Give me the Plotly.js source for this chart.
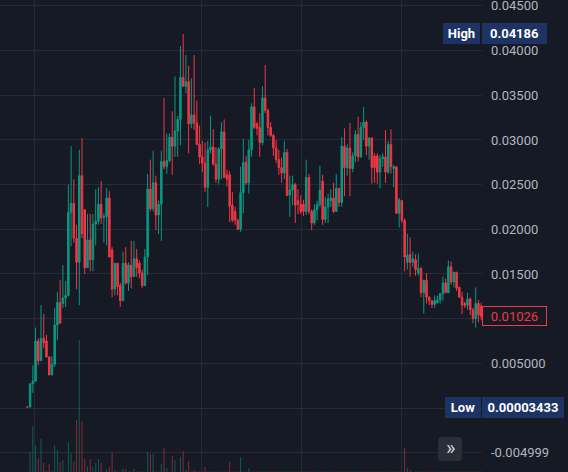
<!DOCTYPE html>
<html>
<head>
<meta charset="utf-8">
<script src="https://cdn.plot.ly/plotly-3.0.1.min.js"></script>
<style>
html,body{margin:0;padding:0;background:#161a25;}
#chart{width:568px;height:472px;}
</style>
</head>
<body>
<div id="chart"></div>
<script>
// ---- data (price in USD, one candle per period) ----
const candleOpen = [
0.00012,0.0001,0.0027,0.0030,0.0075,0.0053,0.0078,0.0075,0.0057,0.0037,
0.0049,0.0093,0.0118,0.0117,0.0123,0.0126,0.0219,0.0229,0.0190,0.0163,
0.0260,0.0222,0.0157,0.0188,0.0166,0.0206,0.0209,0.0228,0.0213,0.0214,
0.0235,0.0177,0.0133,0.0162,0.0137,0.0120,0.0162,0.0140,0.0160,0.0147,
0.0167,0.0162,0.0151,0.0137,0.0169,0.0245,0.0223,0.0252,0.0216,0.0228,
0.0276,0.0270,0.0277,0.0303,0.0293,0.0310,0.0323,0.0370,0.0360,0.0365,
0.0318,0.0328,0.0319,0.0295,0.0281,0.0274,0.0247,0.0289,0.0292,0.0273,
0.0256,0.0290,0.0309,0.0261,0.0261,0.0227,0.0220,0.0210,0.0200,0.0241,
0.0275,0.0252,0.0289,0.0337,0.0318,0.0314,0.0297,0.0347,0.0333,0.0314,
0.0305,0.0291,0.0278,0.0269,0.0263,0.0286,0.0238,0.0244,0.0250,0.0232,
0.0228,0.0228,0.0220,0.0258,0.0220,0.0207,0.0222,0.0228,0.0254,0.0211,
0.0225,0.0232,0.0235,0.0220,0.0246,0.0230,0.0293,0.0269,0.0291,0.0268,
0.0282,0.0306,0.0281,0.0314,0.0320,0.0293,0.0302,0.0282,0.0282,0.0264,
0.0279,0.0281,0.0264,0.0295,0.0268,0.0270,0.0218,0.0232,0.0210,0.0163,
0.0172,0.0163,0.0166,0.0151,0.0156,0.0129,0.0143,0.0124,0.0120,0.0116,
0.0118,0.0121,0.0128,0.0140,0.0129,0.0158,0.0141,0.0152,0.0135,0.0124,
0.0117,0.0115,0.0122,0.0110,0.0100,0.0117,0.0114
];
const candleHigh = [
0.00012,0.0028,0.0048,0.0090,0.0078,0.0115,0.0105,0.0082,0.0058,0.0058,
0.0112,0.0130,0.0143,0.0160,0.0142,0.0250,0.0293,0.0256,0.0205,0.0289,
0.0302,0.0222,0.0217,0.0217,0.0217,0.0245,0.0247,0.0254,0.0218,0.0246,
0.0243,0.0180,0.0162,0.0162,0.0140,0.0175,0.0180,0.0163,0.0187,0.0187,
0.0178,0.0165,0.0155,0.0178,0.0262,0.0278,0.0288,0.0260,0.0232,0.0288,
0.0347,0.0307,0.0307,0.0332,0.0371,0.0327,0.0405,0.04186,0.0395,0.0383,
0.0369,0.0395,0.0344,0.0316,0.0299,0.0297,0.0299,0.0327,0.0312,0.0292,
0.0292,0.0320,0.0323,0.0267,0.0265,0.0242,0.0225,0.0212,0.0270,0.0301,
0.0282,0.0300,0.0341,0.0358,0.0320,0.0330,0.0360,0.0384,0.0335,0.0320,
0.0307,0.0300,0.0289,0.0280,0.0299,0.0290,0.0260,0.0260,0.0252,0.0245,
0.0238,0.0233,0.0278,0.0262,0.0222,0.0228,0.0232,0.0271,0.0261,0.0236,
0.0240,0.0245,0.0252,0.0262,0.0246,0.0303,0.0313,0.0295,0.0319,0.0286,
0.0311,0.0326,0.0320,0.0337,0.0322,0.0303,0.0303,0.0285,0.0285,0.0283,
0.0285,0.0311,0.0299,0.0312,0.0272,0.0270,0.0235,0.0233,0.0212,0.0195,
0.0191,0.0175,0.0172,0.0173,0.0158,0.0143,0.0151,0.0125,0.0121,0.0126,
0.0126,0.0126,0.0147,0.0145,0.0165,0.0164,0.0152,0.0152,0.0136,0.0130,
0.0119,0.0129,0.0124,0.0112,0.0135,0.0121,0.0118
];
const candleLow = [
0.00003433,0.0001,0.0017,0.0030,0.0048,0.0053,0.0067,0.0057,0.0037,0.0037,
0.0046,0.0076,0.0095,0.0112,0.0113,0.0125,0.0181,0.0185,0.0133,0.0115,
0.0190,0.0150,0.0157,0.0153,0.0153,0.0182,0.0205,0.0206,0.0185,0.0182,
0.0169,0.0124,0.0126,0.0126,0.0113,0.0120,0.0138,0.0131,0.0134,0.0147,
0.0147,0.0145,0.0134,0.0137,0.0149,0.0220,0.0220,0.0199,0.0195,0.0187,
0.0267,0.0262,0.0275,0.0261,0.0281,0.0281,0.0294,0.0360,0.0352,0.0285,
0.0313,0.0311,0.0295,0.0273,0.0264,0.0242,0.0225,0.0285,0.0271,0.0252,
0.0250,0.0256,0.0258,0.0248,0.0208,0.0208,0.0205,0.0199,0.0197,0.0218,
0.0250,0.0240,0.0281,0.0312,0.0305,0.0281,0.0294,0.0330,0.0305,0.0303,
0.0282,0.0274,0.0261,0.0252,0.0256,0.0237,0.0214,0.0227,0.0207,0.0217,
0.0217,0.0215,0.0216,0.0217,0.0199,0.0205,0.0210,0.0225,0.0205,0.0207,
0.0207,0.0225,0.0218,0.0220,0.0225,0.0225,0.0237,0.0260,0.0237,0.0264,
0.0275,0.0276,0.0280,0.0300,0.0283,0.0278,0.0251,0.0252,0.0251,0.0246,
0.0270,0.0252,0.0262,0.0262,0.0247,0.0217,0.0202,0.0207,0.0153,0.0155,
0.0147,0.0158,0.0148,0.0148,0.0124,0.0106,0.0117,0.0115,0.0112,0.0112,
0.0117,0.0117,0.0120,0.0129,0.0129,0.0138,0.0135,0.0131,0.0124,0.0105,
0.0112,0.0110,0.0104,0.0095,0.0090,0.0096,0.0098
];
const candleClose = [
0.0001,0.0027,0.0030,0.0075,0.0053,0.0078,0.0073,0.0057,0.0037,0.0049,
0.0093,0.0118,0.0095,0.0123,0.0126,0.0219,0.0229,0.0190,0.0163,0.0260,
0.0195,0.0157,0.0188,0.0166,0.0206,0.0209,0.0228,0.0213,0.0214,0.0235,
0.0169,0.0133,0.0162,0.0136,0.0120,0.0162,0.0140,0.0160,0.0147,0.0167,
0.0157,0.0151,0.0137,0.0169,0.0245,0.0223,0.0252,0.0216,0.0228,0.0276,
0.0270,0.0277,0.0303,0.0293,0.0310,0.0323,0.0370,0.0360,0.0365,0.0318,
0.0328,0.0319,0.0295,0.0281,0.0274,0.0247,0.0289,0.0292,0.0273,0.0256,
0.0290,0.0309,0.0258,0.0256,0.0226,0.0210,0.0210,0.0200,0.0241,0.0275,
0.0252,0.0289,0.0337,0.0314,0.0313,0.0297,0.0347,0.0333,0.0314,0.0305,
0.0291,0.0278,0.0269,0.0263,0.0286,0.0238,0.0244,0.0250,0.0227,0.0228,
0.0220,0.0220,0.0258,0.0220,0.0207,0.0222,0.0228,0.0244,0.0211,0.0225,
0.0234,0.0235,0.0220,0.0246,0.0230,0.0293,0.0269,0.0291,0.0268,0.0282,
0.0306,0.0281,0.0314,0.0320,0.0293,0.0302,0.0269,0.0269,0.0264,0.0279,
0.0281,0.0264,0.0295,0.0270,0.0270,0.0218,0.0233,0.0210,0.0169,0.0171,
0.0163,0.0167,0.0155,0.0156,0.0129,0.0143,0.0124,0.0120,0.0116,0.0120,
0.0121,0.0128,0.0140,0.0129,0.0158,0.0141,0.0152,0.0134,0.0124,0.0115,
0.0115,0.0122,0.0110,0.0100,0.0117,0.0104,0.01026
];
// relative traded volume per candle (most are too small to show)
const candleVolume = [
0.4,20,46,26,14,33,9,1,8,1,
27,22,10,12,0.4,30,19,10,52,132,
51,13,6,13,5,9,13,9,0.4,3,
5,19,2,0.4,0.4,3,3,0.4,0.4,3,
0.4,0.4,0.4,0.4,20,18,18,0.4,0.4,8,
24,4,0.4,16,12,0.4,15,21,2,11,
0.4,2,1,0.4,0.4,5,0.4,0.4,0.4,0.4,
0.4,0.4,0.4,0.4,10,0.4,0.4,0.4,15,0.4,
0.4,4,0.4,0.4,0.4,0.4,0.4,0.4,0.4,0.4,
0.4,0.4,0.4,0.4,0.4,0.4,0.4,0.4,0.4,0.4,
0.4,0.4,0.4,0.4,0.4,0.4,0.4,0.4,0.4,1,
0.4,0.4,0.4,0.4,0.4,0.4,0.4,0.4,0.4,0.4,
0.4,0.4,0.4,0.4,0.4,0.4,0.4,0.4,0.4,0.4,
0.4,0.4,0.4,0.4,0.4,0.4,0.4,0.4,24,4,
2,0.4,0.4,0.4,0.4,0.4,0.4,0.4,0.4,0.4,
0.4,0.4,0.4,0.4,0.4,0.4,0.4,0.4,0.4,0.4,
0.4,0.4,0.4,0.4,0.4,0.4,0.4
];
// time-grid boundaries (candle positions)
const timeGrid = [2.7, 63.7, 100.2, 136.7];
// price axis ticks (0.01000 and 0.00000 sit behind the price tags)
const priceTicks = [0.045,0.04,0.035,0.03,0.025,0.02,0.015,0.01,0.005,0,-0.004999];
const priceTickText = ['0.04500','0.04000','0.03500','0.03000','0.02500','0.02000','0.01500','','0.005000','','-0.004999'];
const highValue = 0.04186;
const lowValue = 0.00003433;
const lowText = '0.00003433';
const lastPrice = 0.01026;

// ---- styling ----
const UP = '#089981', DOWN = '#f23645';
const BG = '#161a25', GRID = '#262a36';
const TAG = '#1c3363';
const FONT = 'Roboto, "Liberation Sans", Arial, sans-serif';
const plotW = 482, plotH = 472;
const px = v => v / plotW;
const py = v => 1 - v / plotH;

const idx = candleOpen.map((_, i) => i);
const volColors = candleOpen.map((o, i) =>
  candleClose[i] >= o ? 'rgba(8,153,129,0.5)' : 'rgba(242,54,69,0.5)');

const volumeTrace = {
  type: 'bar', x: idx, y: candleVolume, yaxis: 'y2',
  marker: {color: volColors, line: {width: 0}},
  width: 0.38, hoverinfo: 'skip'
};
const candleTrace = {
  type: 'candlestick', x: idx,
  open: candleOpen, high: candleHigh, low: candleLow, close: candleClose,
  increasing: {line: {color: UP, width: 1}, fillcolor: UP},
  decreasing: {line: {color: DOWN, width: 1}, fillcolor: DOWN},
  whiskerwidth: 0, hoverinfo: 'skip'
};

// rounded button path (paper coords)
function roundRect(x0, y0, x1, y1, r) {
  const rx = r / plotW, ry = r / plotH;
  const X0 = px(x0), X1 = px(x1), Y0 = py(y0), Y1 = py(y1);
  return `M${X0+rx},${Y0} L${X1-rx},${Y0} Q${X1},${Y0} ${X1},${Y0-ry} L${X1},${Y1+ry} Q${X1},${Y1} ${X1-rx},${Y1} L${X0+rx},${Y1} Q${X0},${Y1} ${X0},${Y1+ry} L${X0},${Y0-ry} Q${X0},${Y0} ${X0+rx},${Y0} Z`;
}

const tagFont = {family: FONT, size: 13, color: '#ffffff', weight: 'bold'};
const annotations = [
  {text: 'High', xref: 'paper', yref: 'y', x: px(443), xanchor: 'left', y: highValue, yanchor: 'middle',
   showarrow: false, bgcolor: TAG, width: 37, height: 21, borderpad: 0, borderwidth: 0, font: tagFont},
  {text: highValue.toFixed(5), xref: 'paper', yref: 'y', x: px(482), xanchor: 'left', y: highValue, yanchor: 'middle',
   showarrow: false, bgcolor: TAG, width: 65, height: 21, borderpad: 0, borderwidth: 0, font: tagFont},
  {text: 'Low', xref: 'paper', yref: 'y', x: px(445), xanchor: 'left', y: lowValue, yanchor: 'middle',
   showarrow: false, bgcolor: TAG, width: 36, height: 21, borderpad: 0, borderwidth: 0, font: tagFont},
  {text: lowText, xref: 'paper', yref: 'y', x: px(482), xanchor: 'left', y: lowValue, yanchor: 'middle',
   showarrow: false, bgcolor: TAG, width: 82, height: 21, borderpad: 0, borderwidth: 0, font: tagFont},
  {text: lastPrice.toFixed(5), xref: 'paper', yref: 'y', x: px(482), xanchor: 'left', y: lastPrice, yanchor: 'middle',
   showarrow: false, bgcolor: BG, bordercolor: DOWN, borderwidth: 1, borderpad: 0, width: 63, height: 18,
   font: {family: FONT, size: 13, color: DOWN}},
  {text: '»', xref: 'paper', yref: 'paper', x: px(450), y: py(448), xanchor: 'center', yanchor: 'middle',
   showarrow: false, font: {family: FONT, size: 20, color: '#d1d4dc'}}
];

const layout = {
  width: 568, height: 472,
  margin: {l: 0, r: 86, t: 0, b: 0, pad: 0},
  paper_bgcolor: BG, plot_bgcolor: BG,
  showlegend: false, boxgap: 0.22,
  xaxis: {range: [-10, 166.3], tickvals: timeGrid, showticklabels: false, ticks: '',
          showgrid: true, gridcolor: GRID, gridwidth: 1, zeroline: false, showline: false,
          rangeslider: {visible: false}, fixedrange: true},
  yaxis: {side: 'right', range: [-0.00716, 0.04566], tickvals: priceTicks, ticktext: priceTickText,
          showgrid: true, gridcolor: GRID, gridwidth: 1, zeroline: false, showline: false, ticks: '',
          ticklabelstandoff: 8, ticklabeloverflow: 'allow',
          tickfont: {family: FONT, size: 13, color: '#b2b5be'}, fixedrange: true},
  yaxis2: {overlaying: 'y', range: [0, 472], visible: false, fixedrange: true},
  shapes: [{type: 'path', xref: 'paper', yref: 'paper', path: roundRect(438, 437, 462, 461, 4),
            fillcolor: '#2a2e39', line: {width: 0}}],
  annotations: annotations
};

Plotly.newPlot('chart', [volumeTrace, candleTrace], layout, {displayModeBar: false, staticPlot: true});
</script>
</body>
</html>
